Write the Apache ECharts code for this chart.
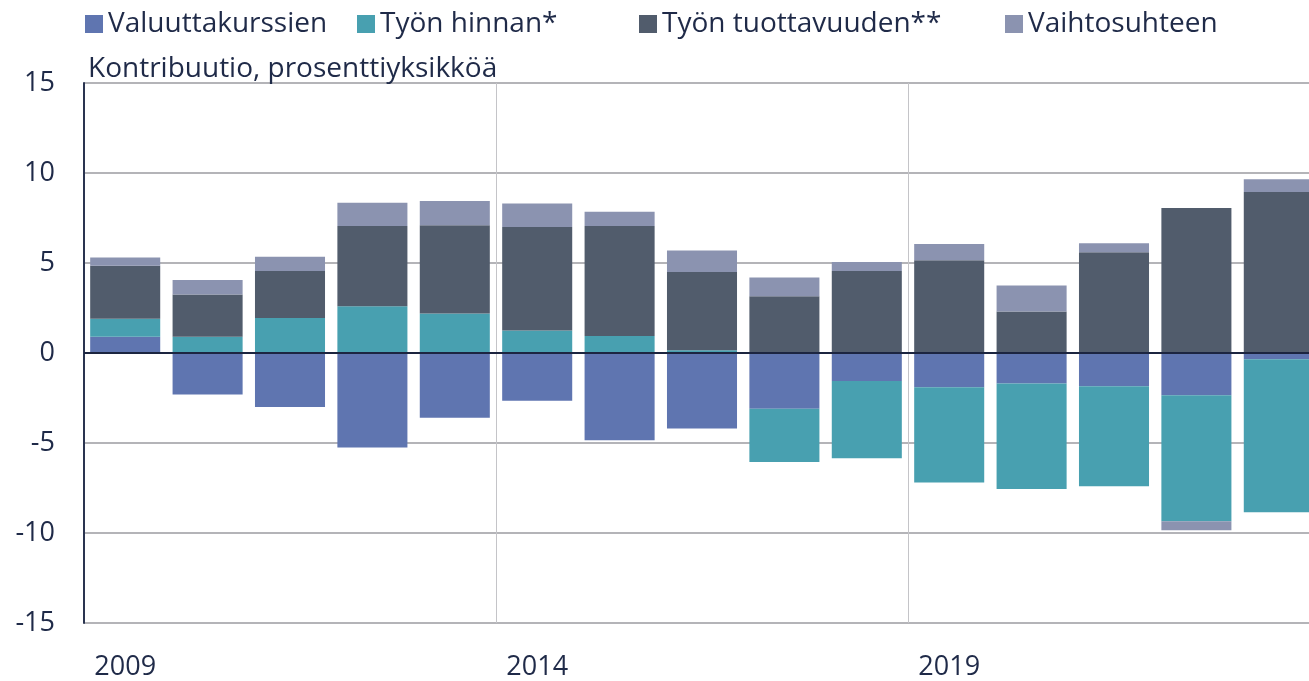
<!DOCTYPE html>
<html>
<head>
<meta charset="utf-8">
<script src="https://cdn.jsdelivr.net/npm/echarts@6/dist/echarts.min.js"></script>
<style>
  html, body { margin: 0; padding: 0; background: #fff; overflow: hidden; }
  /* kuvio jatkuu hieman ikkunan oikean reunan yli kuten alkuperäisessä */
  #chart { width: 1320px; height: 681px; }
</style>
</head>
<body>
<div id="chart"></div>
<script>
// vuodet
const years = ['2009', '2010', '2011', '2012', '2013', '2014', '2015', '2016',
  '2017', '2018', '2019', '2020', '2021', '2022', '2023']

// kontribuutiot, prosenttiyksikköä (luettu kuvasta)
const valuutta = [0.9, -2.3, -3.0, -5.25, -3.6, -2.65, -4.85, -4.2, -3.1, -1.55, -1.9, -1.7, -1.85, -2.35, -0.35]
const tyonHinta = [1.0, 0.9, 1.95, 2.6, 2.2, 1.25, 0.95, 0.15, -2.95, -4.3, -5.3, -5.85, -5.55, -7.0, -8.5]
const tuottavuus = [2.95, 2.35, 2.6, 4.45, 4.9, 5.75, 6.1, 4.35, 3.15, 4.55, 5.15, 2.3, 5.6, 8.05, 8.95]
const vaihtosuhde = [0.45, 0.8, 0.8, 1.3, 1.35, 1.3, 0.8, 1.2, 1.05, 0.5, 0.9, 1.45, 0.5, -0.5, 0.7]

const yTicks = [-15, -10, -5, 0, 5, 10, 15]

const textColor = '#1f2a48'
const font = 'Open Sans'

const chart = echarts.init(document.getElementById('chart'))

const names = ['Valuuttakurssien', 'Työn hinnan*', 'Työn tuottavuuden**', 'Vaihtosuhteen']
const colors = ['#5f75b0', '#48a0b0', '#515c6c', '#8b93b0']
const legendLeft = [80, 352, 634, 1000]

function barSeries(name, data, color) {
  return {
    name: name,
    type: 'bar',
    stack: 'total',
    barCategoryGap: '15%',
    itemStyle: { color: color },
    data: data
  }
}

const series = [
  barSeries(names[0], valuutta, colors[0]),
  barSeries(names[1], tyonHinta, colors[1]),
  barSeries(names[2], tuottavuus, colors[2]),
  barSeries(names[3], vaihtosuhde, colors[3])
]
// nollaviiva palkkien päälle
series[0].markLine = {
  silent: true,
  symbol: 'none',
  label: { show: false },
  lineStyle: { color: '#1c2540', width: 2, type: 'solid' },
  data: [{ yAxis: 0 }]
}

const option = {
  animation: false,
  textStyle: { fontFamily: font },
  title: {
    text: 'Kontribuutio, prosenttiyksikköä',
    left: 83,
    top: 50,
    textStyle: { fontFamily: font, fontSize: 28, fontWeight: 'normal', color: textColor }
  },
  legend: names.map((n, i) => ({
    data: [n],
    left: legendLeft[i],
    top: 5,
    icon: 'rect',
    itemWidth: 18,
    itemHeight: 18,
    itemGap: 0,
    textStyle: { fontFamily: font, fontSize: 28, color: textColor }
  })),
  grid: {
    left: 84,
    top: 83,
    right: 0,
    height: 542
  },
  xAxis: {
    type: 'category',
    data: years,
    axisLine: { show: false },
    axisTick: { show: false },
    axisLabel: {
      interval: 4,
      fontFamily: font,
      fontSize: 27,
      color: textColor,
      margin: 31
    },
    splitLine: {
      show: true,
      interval: 4,
      lineStyle: { color: '#c4c4c8', width: 1 }
    }
  },
  yAxis: {
    type: 'value',
    min: yTicks[0],
    max: yTicks[yTicks.length - 1],
    interval: 5,
    axisLine: { show: true, lineStyle: { color: '#2a3450', width: 2 } },
    axisTick: { show: false },
    axisLabel: {
      fontFamily: font,
      fontSize: 27,
      color: textColor,
      margin: 29
    },
    splitLine: {
      show: true,
      lineStyle: { color: '#b4b4b8', width: 2 }
    }
  },
  series: series
}

chart.setOption(option)
</script>
</body>
</html>
